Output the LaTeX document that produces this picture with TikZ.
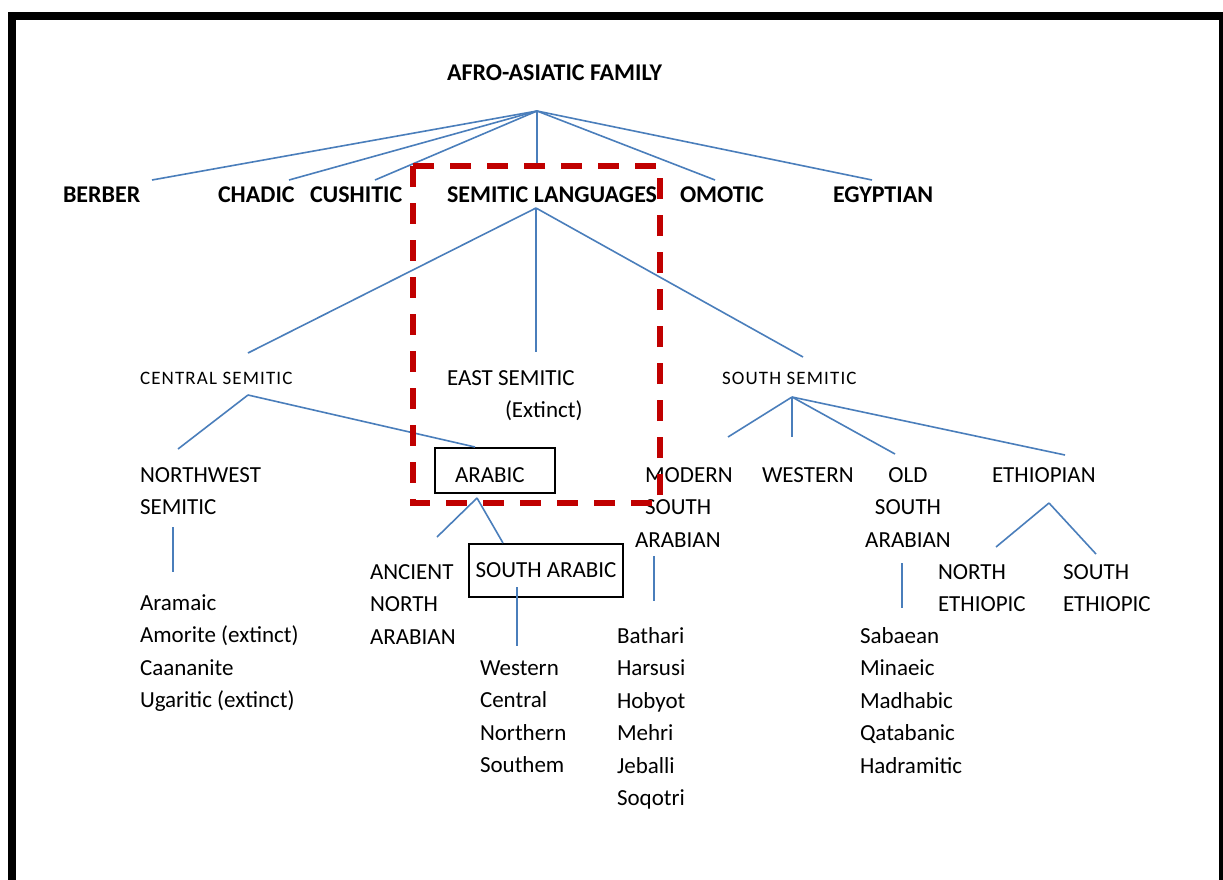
\documentclass[tikz,border=0pt]{standalone}
\usepackage{fontspec}
\setmainfont{Carlito}
\newfontfamily\spacedfont[LetterSpace=6]{Carlito}
\definecolor{linkblue}{HTML}{4A7EBB}
\definecolor{markred}{HTML}{C00000}
\begin{document}
\begin{tikzpicture}[x=1pt,y=-1pt,
  every node/.style={inner sep=0pt, outer sep=0pt, text=black},
  head/.style={font=\fontsize{24}{28}\selectfont\bfseries, anchor=base west},
  lab/.style={font=\fontsize{23}{32.5}\selectfont, anchor=base west, align=left},
  sublab/.style={font=\spacedfont\fontsize{19}{24}\selectfont, anchor=base west},
  link/.style={draw=linkblue, line width=1.6pt},
  boxed/.style={draw=black, line width=2.2pt},
  focus/.style={draw=markred, line width=5.5pt, dash pattern=on 21pt off 16pt},
]
\useasboundingbox (0,0) rectangle (1223,879);
\fill[white] (0,0) rectangle (1223,879);

% outer frame (open at the bottom)
\draw[line width=8pt] (12,885) -- (12,16) -- (1223,16) -- (1223,885);

% top levels
\node[head] (root) at (447,80) {AFRO-ASIATIC FAMILY};
\node[head] (berber) at (63,202) {BERBER};
\node[head] (chadic) at (218,202) {CHADIC};
\node[head] (cushitic) at (310,202) {CUSHITIC};
\node[head] (semitic) at (447,202) {SEMITIC LANGUAGES};
\node[head] (omotic) at (680,202) {OMOTIC};
\node[head] (egyptian) at (833,202) {EGYPTIAN};

% branches of Semitic
\node[sublab] (central) at (140,384) {CENTRAL SEMITIC};
\node[lab] (east) at (447,385) {EAST SEMITIC};
\node[lab] (eastnote) at (505,417) {(Extinct)};
\node[sublab] (south) at (722,384) {SOUTH SEMITIC};

% multi-line nodes are placed by the baseline of their last line
% Central Semitic
\node[lab] (northwest) at (140,514.5) {NORTHWEST\\SEMITIC};
\node[boxed, minimum width=120pt, minimum height=45pt] (arabic) at (495,470.5) {};
\node[lab] (arabictxt) at (455,482) {ARABIC};
\node[lab] (ancient) at (370,644) {ANCIENT\\NORTH\\ARABIAN};
\node[boxed, minimum width=154pt, minimum height=53pt,
      font=\fontsize{23}{32.5}\selectfont] (southarabic) at (546,570.5) {SOUTH ARABIC};

% South Semitic
\node[lab] (modern) at (635,547) {\hspace*{10pt}MODERN\\\hspace*{10pt}SOUTH\\ARABIAN};
\node[lab] (western) at (762,482) {WESTERN};
\node[lab, anchor=base, align=center] (oldsouth) at (908,547) {OLD\\SOUTH\\ARABIAN};
\node[lab] (ethiopian) at (992,482) {ETHIOPIAN};
\node[lab] (northeth) at (938,611.5) {NORTH\\ETHIOPIC};
\node[lab] (southeth) at (1063,611.5) {SOUTH\\ETHIOPIC};

% language lists
\node[lab] (nwlist) at (140,707.5) {Aramaic\\Amorite (extinct)\\Caananite\\Ugaritic (extinct)};
\node[lab] (salist) at (480,772.5) {Western\\Central\\Northern\\Southem};
\node[lab] (msalist) at (617,805.5) {Bathari\\Harsusi\\Hobyot\\Mehri\\Jeballi\\Soqotri};
\node[lab] (osalist) at (860,773) {Sabaean\\Minaeic\\Madhabic\\Qatabanic\\Hadramitic};

% forks and connector ends
\coordinate (rootfork) at (537,111);
\coordinate (toberber) at (152,180);
\coordinate (tochadic) at (289,180);
\coordinate (tocushitic) at (375,180);
\coordinate (tosemitic) at (537,163);
\coordinate (toomotic) at (715,180);
\coordinate (toegyptian) at (872,180);

\coordinate (semfork) at (536,208);
\coordinate (tocentral) at (248,353);
\coordinate (toeast) at (536,352);
\coordinate (tosouth) at (803,357);

\coordinate (centralfork) at (248,395);
\coordinate (tonorthwest) at (178,449);
\coordinate (toarabic) at (475,447);

\coordinate (arabicfork) at (477,498);
\coordinate (toancient) at (437,537);
\coordinate (tosoutharabic) at (503,543);

\coordinate (southfork) at (792,397);
\coordinate (tomodern) at (728,437);
\coordinate (towestern) at (792,437);
\coordinate (tooldsouth) at (895,454);
\coordinate (toethiopian) at (1065,455);

\coordinate (ethfork) at (1049,503);
\coordinate (tonortheth) at (996,547);
\coordinate (tosoutheth) at (1096,554);

\coordinate (nwtop) at (173,527);   \coordinate (nwbot) at (173,572);
\coordinate (satop) at (517,587);   \coordinate (sabot) at (517,646);
\coordinate (msatop) at (654,556);  \coordinate (msabot) at (654,601);
\coordinate (osatop) at (902,563);  \coordinate (osabot) at (902,608);

% connectors
\draw[link] (rootfork) -- (toberber);
\draw[link] (rootfork) -- (tochadic);
\draw[link] (rootfork) -- (tocushitic);
\draw[link] (rootfork) -- (tosemitic);
\draw[link] (rootfork) -- (toomotic);
\draw[link] (rootfork) -- (toegyptian);

\draw[link] (semfork) -- (tocentral);
\draw[link] (semfork) -- (toeast);
\draw[link] (semfork) -- (tosouth);

\draw[link] (centralfork) -- (tonorthwest);
\draw[link] (centralfork) -- (toarabic);

\draw[link] (arabicfork) -- (toancient);
\draw[link] (arabicfork) -- (tosoutharabic);

\draw[link] (southfork) -- (tomodern);
\draw[link] (southfork) -- (towestern);
\draw[link] (southfork) -- (tooldsouth);
\draw[link] (southfork) -- (toethiopian);

\draw[link] (ethfork) -- (tonortheth);
\draw[link] (ethfork) -- (tosoutheth);

\draw[link] (nwtop) -- (nwbot);
\draw[link] (satop) -- (sabot);
\draw[link] (msatop) -- (msabot);
\draw[link] (osatop) -- (osabot);

% highlighted region around the Semitic core
\draw[focus] (413,166) rectangle (660,503);
\end{tikzpicture}
\end{document}
